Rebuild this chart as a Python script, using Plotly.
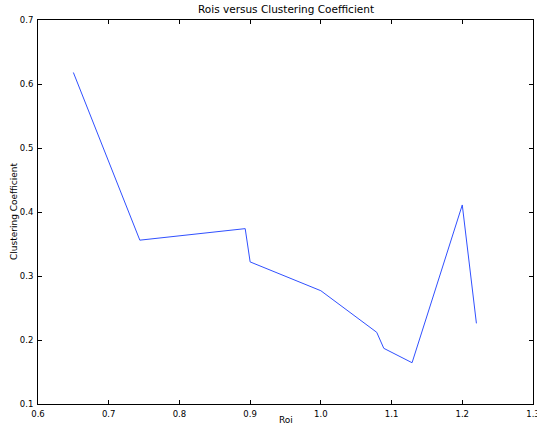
import plotly.graph_objects as go

roi = [0.65, 0.744, 0.893, 0.900, 1.000, 1.079, 1.089, 1.129, 1.200, 1.220]
clustering = [0.618, 0.356, 0.374, 0.322, 0.277, 0.212, 0.187, 0.1645, 0.411, 0.226]

x_ticks = [0.6, 0.7, 0.8, 0.9, 1.0, 1.1, 1.2, 1.3]
y_ticks = [0.1, 0.2, 0.3, 0.4, 0.5, 0.6, 0.7]

title_text = "Rois versus Clustering Coefficient"
x_label = "Roi"
y_label = "Clustering Coefficient"

FONT = "DejaVu Sans"

fig = go.Figure()
fig.add_trace(go.Scatter(x=roi, y=clustering, mode="lines",
                         line=dict(color="#3050ff", width=1), showlegend=False))

axis_common = dict(showgrid=False, zeroline=False, showline=True, linecolor="black",
                   linewidth=1, mirror="ticks", ticks="inside", ticklen=4,
                   tickcolor="black", tickwidth=1, tickmode="array",
                   ticklabeloverflow="allow", automargin=False,
                   tickfont=dict(family=FONT, size=8.5, color="black"))

fig.update_layout(
    width=537, height=425,
    margin=dict(l=38, r=4, t=20, b=21, pad=0),
    paper_bgcolor="white", plot_bgcolor="white",
    xaxis=dict(range=[0.6, 1.30001], tickvals=x_ticks,
               ticktext=[f"{v:.1f}" for v in x_ticks], ticklabelstandoff=2, **axis_common),
    yaxis=dict(range=[0.1, 0.70001], tickvals=y_ticks,
               ticktext=[f"{v:.1f}" for v in y_ticks], ticklabelstandoff=2, **axis_common),
    font=dict(family=FONT, color="black"),
    annotations=[
        dict(text=title_text, xref="paper", yref="paper", x=0.5, y=1, yshift=3,
             xanchor="center", yanchor="bottom", showarrow=False,
             font=dict(family=FONT, size=10.5, color="black")),
        dict(text=x_label, xref="paper", yref="paper", x=0.5, y=0, yshift=-9,
             xanchor="center", yanchor="top", showarrow=False,
             font=dict(family=FONT, size=9, color="black")),
        dict(text=y_label, xref="paper", yref="paper", x=0, y=0.5, xshift=-24,
             xanchor="center", yanchor="middle", textangle=-90, showarrow=False,
             font=dict(family=FONT, size=9, color="black")),
    ],
)

fig.write_html("out.html")
